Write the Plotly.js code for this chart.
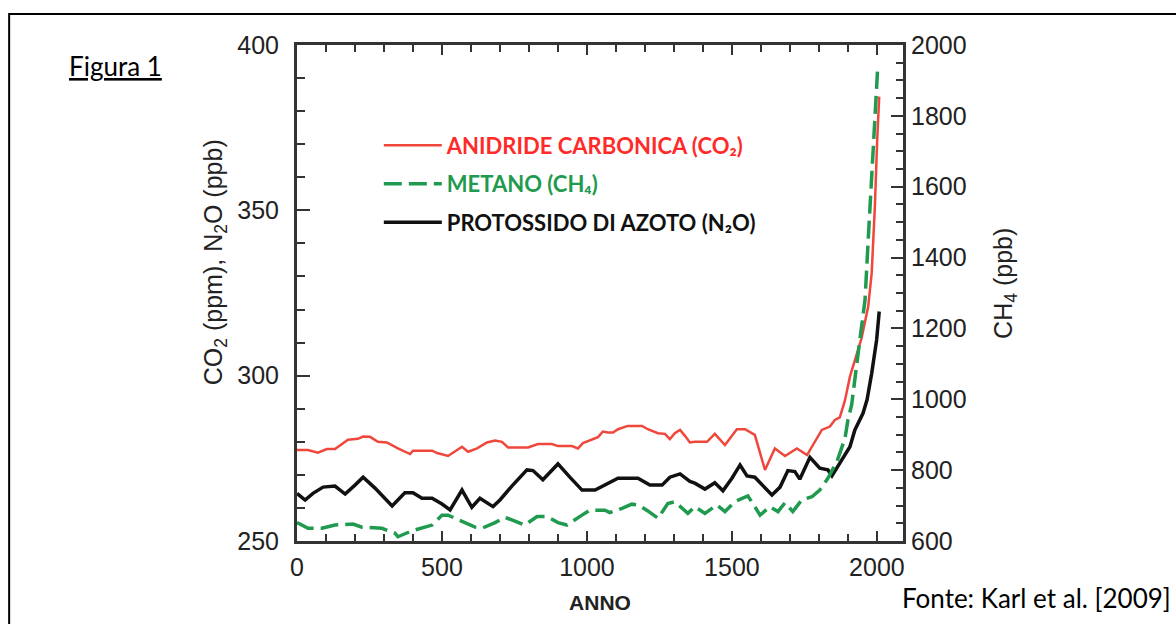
<!DOCTYPE html>
<html>
<head>
<meta charset="utf-8">
<script src="https://cdn.plot.ly/plotly-3.0.1.min.js"></script>
<style>
  html, body { margin: 0; padding: 0; background: #ffffff; }
  #chart { width: 1176px; height: 624px; }
</style>
</head>
<body>
<div id="chart"></div>
<script>
// ---- Data ----
const co2Year = [0, 38, 72, 103, 131, 176, 210, 228, 252, 279,
  310, 348, 390, 400, 466, 483, 521, 538, 569, 590,
  621, 655, 683, 707, 728, 797, 831, 879, 900, 948,
  969, 986, 1017, 1038, 1055, 1072, 1090, 1107, 1141, 1190,
  1210, 1245, 1269, 1286, 1303, 1321, 1338, 1355, 1372, 1414,
  1441, 1476, 1517, 1545, 1579, 1597, 1614, 1648, 1683, 1724,
  1759, 1810, 1838, 1855, 1872, 1890, 1907, 1947, 1970, 1982,
  1993, 2001, 2008];
const co2 = [277.5, 277.5, 276.7, 277.8, 277.8, 280.6, 280.9, 281.6, 281.5, 280.0,
  279.8, 278.0, 276.3, 277.3, 277.3, 276.6, 275.7, 276.6, 278.5, 277.0,
  278.0, 279.8, 280.4, 280.0, 278.3, 278.3, 279.3, 279.3, 278.7, 278.7,
  278.0, 279.6, 280.6, 281.4, 283.1, 282.8, 282.8, 283.8, 284.8, 284.8,
  283.8, 282.6, 282.4, 280.8, 282.6, 283.6, 281.8, 279.8, 280.0, 280.0,
  282.4, 279.0, 283.8, 283.8, 282.1, 277.0, 271.5, 278.0, 275.7, 278.0,
  276.0, 283.6, 284.6, 286.6, 287.4, 292.6, 299.7, 311.3, 320.9, 331.0,
  351.1, 371.3, 384.4];

const ch4Year = [0, 38, 86, 131, 193, 224, 293, 338, 348, 397,
  466, 500, 521, 555, 614, 638, 683, 717, 752, 786,
  828, 862, 900, 931, 983, 1010, 1062, 1079, 1121, 1155,
  1176, 1210, 1245, 1279, 1303, 1321, 1348, 1372, 1407, 1448,
  1476, 1510, 1555, 1572, 1597, 1631, 1659, 1683, 1710, 1741,
  1776, 1803, 1831, 1862, 1890, 1900, 1913, 1941, 1959, 1970,
  1982, 1993, 2002];
const ch4 = [652, 636, 636, 645, 648, 639, 636, 622, 612, 629,
  645, 673, 673, 661, 639, 636, 652, 667, 655, 645,
  669, 669, 652, 645, 673, 687, 687, 680, 692, 704,
  702, 685, 664, 706, 711, 697, 678, 697, 678, 702,
  683, 711, 727, 706, 673, 697, 683, 708, 683, 716,
  725, 744, 777, 824, 890, 941, 985, 1167, 1280, 1450,
  1638, 1779, 1925];

const n2oYear = [0, 28, 55, 90, 131, 166, 200, 228, 269, 328,
  372, 400, 431, 466, 500, 528, 569, 603, 631, 676,
  700, 741, 793, 814, 848, 900, 941, 983, 1028, 1062,
  1107, 1176, 1217, 1259, 1286, 1321, 1355, 1372, 1407, 1441,
  1469, 1500, 1528, 1552, 1579, 1638, 1666, 1693, 1717, 1734,
  1769, 1803, 1831, 1845, 1879, 1907, 1924, 1952, 1966, 1982,
  1999, 2008];
const n2o = [264.4, 262.4, 264.4, 266.3, 266.6, 264.2, 266.9, 269.3, 266.0, 260.6,
  264.6, 264.6, 262.9, 262.9, 261.2, 259.4, 265.4, 260.2, 262.9, 260.4,
  262.4, 266.6, 271.5, 271.3, 268.5, 273.3, 269.3, 265.4, 265.4, 266.9,
  269.0, 269.0, 266.9, 266.9, 269.3, 270.3, 268.0, 267.5, 265.7, 267.6,
  265.2, 269.0, 273.0, 269.7, 269.3, 263.9, 266.3, 271.3, 271.0, 268.7,
  275.3, 272.0, 271.5, 269.7, 274.5, 278.5, 283.6, 288.6, 292.7, 300.7,
  310.8, 319.4];

const seriesNames = [
  'ANIDRIDE CARBONICA (CO₂)',
  'METANO (CH₄)',
  'PROTOSSIDO DI AZOTO (N₂O)'
];
const xTitle = 'ANNO';
const yLeftTitle = 'CO<sub>2</sub> (ppm), N<sub>2</sub>O (ppb)';
const yRightTitle = 'CH<sub>4</sub> (ppb)';
const figLabel = 'Figura 1';
const sourceLabel = 'Fonte: Karl et al. [2009]';

// ---- Styling ----
const axisColor = '#333333';
const tickFont = { family: 'Arial, "Liberation Sans", sans-serif', size: 25, color: '#222222' };

const traces = [
  {
    x: co2Year, y: co2, yaxis: 'y', type: 'scatter', mode: 'lines',
    name: '<span style="color:#ff2b2b">' + seriesNames[0] + '</span>',
    legendgroup: 'a', legendrank: 1,
    line: { color: '#f0473c', width: 2.5 }
  },
  {
    x: n2oYear, y: n2o, yaxis: 'y', type: 'scatter', mode: 'lines',
    name: '<span style="color:#111111">' + seriesNames[2] + '</span>',
    legendgroup: 'c', legendrank: 3,
    line: { color: '#111111', width: 3.5 }
  },
  {
    x: ch4Year, y: ch4, yaxis: 'y2', type: 'scatter', mode: 'lines',
    name: '<span style="color:#1f9a4f">' + seriesNames[1] + '</span>',
    legendgroup: 'b', legendrank: 2,
    line: { color: '#1f9a4f', width: 3.5, dash: '18px,7px' }
  }
];

const layout = {
  width: 1176, height: 624,
  margin: { l: 297, r: 273, t: 45, b: 83, pad: 0 },
  paper_bgcolor: '#ffffff', plot_bgcolor: '#ffffff',
  showlegend: true,
  legend: {
    x: 0.135, y: 0.84, xanchor: 'left', yanchor: 'top',
    bgcolor: 'rgba(0,0,0,0)', borderwidth: 0,
    traceorder: 'grouped', tracegroupgap: 7,
    itemwidth: 58,
    font: { family: 'Lato, "Open Sans", sans-serif', size: 22, weight: 'bold', color: '#111111' }
  },
  xaxis: {
    range: [0, 2090], tick0: 0, dtick: 500,
    ticks: 'inside', ticklen: 10, tickwidth: 2, tickcolor: axisColor,
    minor: { dtick: 100, tick0: 0, ticks: 'inside', ticklen: 7, tickwidth: 2, tickcolor: axisColor, showgrid: false },
    showline: true, linewidth: 3, linecolor: axisColor, mirror: 'ticks',
    showgrid: false, zeroline: false,
    tickfont: tickFont, ticklabelstandoff: 2,
    title: { text: '<b>' + xTitle + '</b>', font: { family: 'Arial, sans-serif', size: 21, color: '#222222' }, standoff: 16 }
  },
  yaxis: {
    range: [250, 400], tick0: 250, dtick: 50,
    ticks: 'inside', ticklen: 13, tickwidth: 2, tickcolor: axisColor,
    minor: { dtick: 10, tick0: 250, ticks: 'inside', ticklen: 8, tickwidth: 2, tickcolor: axisColor, showgrid: false },
    showline: true, linewidth: 3, linecolor: axisColor, mirror: false,
    showgrid: false, zeroline: false,
    tickfont: tickFont, ticklabelstandoff: 10
  },
  yaxis2: {
    overlaying: 'y', side: 'right',
    range: [600, 2000], tick0: 600, dtick: 200,
    ticks: 'inside', ticklen: 12, tickwidth: 2, tickcolor: axisColor,
    minor: { dtick: 50, tick0: 600, ticks: 'inside', ticklen: 7, tickwidth: 2, tickcolor: axisColor, showgrid: false },
    showline: true, linewidth: 3, linecolor: axisColor,
    showgrid: false, zeroline: false,
    tickfont: tickFont, ticklabelstandoff: 0
  },
  annotations: [
    {
      text: yLeftTitle, xref: 'paper', yref: 'paper',
      x: -0.135, y: 0.5625, xanchor: 'center', yanchor: 'middle',
      textangle: -90, showarrow: false,
      font: { family: 'Arial, sans-serif', size: 25, color: '#222222' }
    },
    {
      text: yRightTitle, xref: 'paper', yref: 'paper',
      x: 1.168, y: 0.52, xanchor: 'center', yanchor: 'middle',
      textangle: -90, showarrow: false,
      font: { family: 'Arial, sans-serif', size: 25, color: '#222222' }
    },
    {
      text: figLabel, xref: 'paper', yref: 'paper',
      x: -0.3795, y: 0.9577, xanchor: 'left', yanchor: 'middle',
      showarrow: false,
      font: { family: 'Lato, "Open Sans", sans-serif', size: 26, color: '#000000', lineposition: 'under' }
    },
    {
      text: sourceLabel, xref: 'paper', yref: 'paper',
      x: 1.446, y: -0.115, xanchor: 'right', yanchor: 'middle',
      showarrow: false,
      font: { family: 'Lato, "Open Sans", sans-serif', size: 26, color: '#000000' }
    }
  ],
  shapes: [
    {
      type: 'rect', xref: 'paper', yref: 'paper', layer: 'above',
      x0: -0.475, x1: 1.47, y0: -0.2, y1: 1.0625,
      line: { color: '#000000', width: 2 }, fillcolor: 'rgba(0,0,0,0)'
    }
  ]
};

Plotly.newPlot('chart', traces, layout, { displayModeBar: false, staticPlot: true });
</script>
</body>
</html>
